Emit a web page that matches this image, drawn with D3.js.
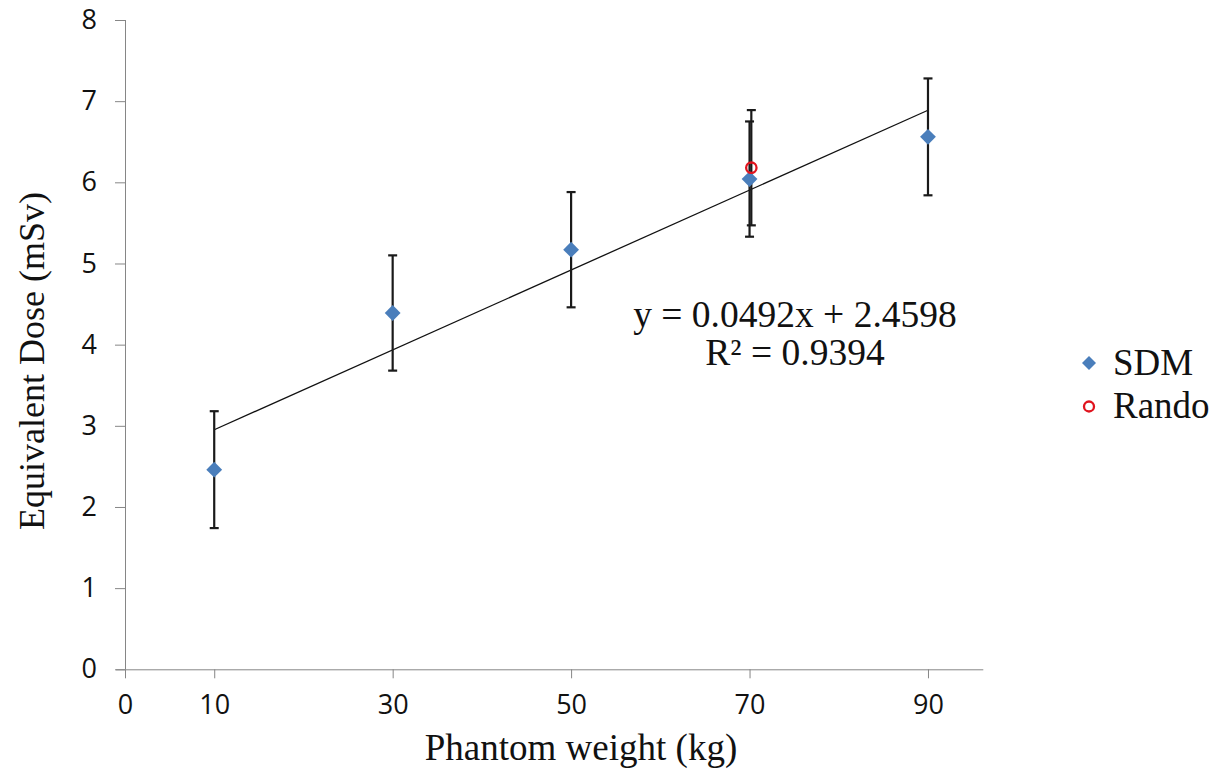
<!DOCTYPE html>
<html>
<head>
<meta charset="utf-8">
<script src="https://cdn.jsdelivr.net/npm/d3@7"></script>
<style>
  body { margin: 0; background: #fff; }
  .serif { font-family: "Liberation Serif", "Times New Roman", serif; fill: #111; }
</style>
</head>
<body>
<div id="chart"></div>
<script>
// data
var weights = [10, 30, 50, 70, 90];
var sdmDose = [2.46, 4.39, 5.17, 6.04, 6.56];
var sdmErr = [0.72, 0.71, 0.71, 0.71, 0.72];
var randoWeight = [70.2];
var randoDose = [6.18];
var randoErr = [0.71];
var xTicks = [0, 10, 30, 50, 70, 90];
var yTicks = [0, 1, 2, 3, 4, 5, 6, 7, 8];
var fitSlope = 0.0492, fitIntercept = 2.4598;
var fitLabels = ["y = 0.0492x + 2.4598", "R\u00b2 = 0.9394"];
var legendLabels = ["SDM", "Rando"];

//////////////////////////
// setup
//////////////////////////
var width = 1222, height = 778;

var svg = d3.select("#chart").append("svg")
  .attr("width", width)
  .attr("height", height);

// scales
var x = d3.scaleLinear()
  .domain([0, 96.2])
  .range([125, 983.3]);
var y = d3.scaleLinear()
  .domain([0, 8])
  .range([669.3, 20]);

// style the axis like excel
function styleAxis(g) {
  g.selectAll("line, path").attr("stroke", "#868686");
  g.selectAll(".tick text")
    .style("font-family", "'Open Sans', sans-serif")
    .style("font-size", "27px")
    .style("fill", "#111");
}

// axes
svg.append("g")
  .attr("transform", "translate(0," + y(0) + ")")
  .call(d3.axisBottom(x).tickValues(xTicks).tickSize(9).tickPadding(17).tickSizeOuter(0))
  .call(function(g) { g.select(".domain").attr("d", "M" + (x(0) - 9) + ",0.5H" + x.range()[1]); })
  .call(styleAxis);

svg.append("g")
  .attr("transform", "translate(" + x(0) + ",0)")
  .call(d3.axisLeft(y).tickValues(yTicks).tickSize(10).tickPadding(18).tickSizeOuter(0))
  .call(function(g) { g.select(".domain").attr("d", "M0.5," + y(0) + "V" + y(8)); })
  .call(styleAxis);

// trendline
svg.append("line")
  .attr("x1", x(10)).attr("y1", y(fitSlope * 10 + fitIntercept))
  .attr("x2", x(90)).attr("y2", y(fitSlope * 90 + fitIntercept))
  .attr("stroke", "#111")
  .attr("stroke-width", 1.3);

// error bars
function errorBars(xs, ys, es) {
  var cap = 4.5;
  var g = svg.append("g")
    .attr("stroke", "#1a1a1a")
    .attr("stroke-width", 2.2);
  xs.forEach(function(xv, i) {
    var cx = x(xv), lo = y(ys[i] - es[i]), hi = y(ys[i] + es[i]);
    g.append("line").attr("x1", cx).attr("x2", cx).attr("y1", lo).attr("y2", hi);
    g.append("line").attr("x1", cx - cap).attr("x2", cx + cap).attr("y1", lo).attr("y2", lo);
    g.append("line").attr("x1", cx - cap).attr("x2", cx + cap).attr("y1", hi).attr("y2", hi);
  });
}
errorBars(weights, sdmDose, sdmErr);
errorBars(randoWeight, randoDose, randoErr);

// SDM points
var diamond = d3.symbol().type(d3.symbolSquare).size(125);
svg.selectAll("path.sdm")
  .data(weights)
  .enter().append("path")
  .attr("class", "sdm")
  .attr("d", diamond)
  .attr("fill", "#4a7ebb")
  .attr("transform", function(d, i) { return "translate(" + x(d) + "," + y(sdmDose[i]) + ") rotate(45)"; });

// Rando point
svg.selectAll("circle.rando")
  .data(randoWeight)
  .enter().append("circle")
  .attr("class", "rando")
  .attr("cx", function(d) { return x(d); })
  .attr("cy", function(d, i) { return y(randoDose[i]); })
  .attr("r", 5.2)
  .attr("fill", "none")
  .attr("stroke", "#e0141e")
  .attr("stroke-width", 2.3);

// fit equation
svg.selectAll("text.fit")
  .data(fitLabels)
  .enter().append("text")
  .attr("class", "serif fit")
  .attr("x", 795)
  .attr("y", function(d, i) { return 327 + i * 38; })
  .attr("text-anchor", "middle")
  .style("font-size", "37.5px")
  .text(function(d) { return d; });

// axis titles
svg.append("text")
  .attr("class", "serif")
  .attr("x", 581)
  .attr("y", 760)
  .attr("text-anchor", "middle")
  .style("font-size", "37px")
  .text("Phantom weight (kg)");

svg.append("text")
  .attr("class", "serif")
  .attr("transform", "translate(44,361) rotate(-90)")
  .attr("text-anchor", "middle")
  .style("font-size", "36px")
  .text("Equivalent Dose (mSv)");

// legend
var legend = svg.append("g");
legend.append("path")
  .attr("d", d3.symbol().type(d3.symbolSquare).size(98))
  .attr("fill", "#4a7ebb")
  .attr("transform", "translate(1089,363) rotate(45)");
legend.append("circle")
  .attr("cx", 1089).attr("cy", 406.5).attr("r", 5)
  .attr("fill", "none")
  .attr("stroke", "#e0141e")
  .attr("stroke-width", 2.3);
legend.selectAll("text")
  .data(legendLabels)
  .enter().append("text")
  .attr("class", "serif")
  .attr("x", 1113)
  .attr("y", function(d, i) { return 375 + i * 43; })
  .style("font-size", "37px")
  .text(function(d) { return d; });
</script>
</body>
</html>
